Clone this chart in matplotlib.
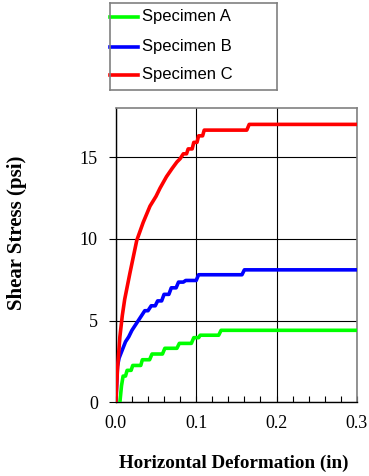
import matplotlib
matplotlib.use("Agg")
import matplotlib.pyplot as plt
from matplotlib.ticker import MultipleLocator, FormatStrFormatter

x_a = [0.005, 0.007, 0.009, 0.012, 0.014, 0.019, 0.021, 0.031, 0.033, 0.042, 0.045,
       0.058, 0.061, 0.076, 0.079, 0.094, 0.097, 0.103, 0.105, 0.128, 0.131, 0.300]
y_a = [0.0, 1.0, 1.6, 1.6, 1.95, 1.95, 2.25, 2.25, 2.6, 2.6, 2.95,
       2.95, 3.3, 3.3, 3.6, 3.6, 3.95, 3.95, 4.1, 4.1, 4.4, 4.4]

x_b = [0.0, 0.002, 0.004, 0.008, 0.012, 0.016, 0.020, 0.024, 0.028, 0.032, 0.036,
       0.040, 0.044, 0.049, 0.052, 0.057, 0.060, 0.066, 0.069, 0.075, 0.078, 0.084,
       0.087, 0.100, 0.103, 0.157, 0.160, 0.300]
y_b = [0.0, 2.2, 2.7, 3.2, 3.7, 4.0, 4.4, 4.7, 5.0, 5.3, 5.6,
       5.6, 5.9, 5.9, 6.2, 6.2, 6.6, 6.6, 7.0, 7.0, 7.35, 7.35,
       7.45, 7.45, 7.8, 7.8, 8.1, 8.1]

x_c = [0.0, 0.002, 0.005, 0.008, 0.011, 0.0175, 0.026, 0.034, 0.0425, 0.050, 0.055,
       0.063, 0.070, 0.076, 0.080, 0.084, 0.088, 0.090, 0.095, 0.097, 0.101, 0.103,
       0.108, 0.110, 0.163, 0.166, 0.300]
y_c = [0.0, 2.0, 4.0, 5.3, 6.3, 7.9, 9.9, 11.0, 12.0, 12.6, 13.1,
       13.8, 14.3, 14.7, 14.9, 15.2, 15.2, 15.5, 15.5, 15.9, 15.9, 16.3,
       16.3, 16.65, 16.65, 17.0, 17.0]

labels = ["Specimen A", "Specimen B", "Specimen C"]
colors = ["#00FF00", "#0000FF", "#FF0000"]

fig = plt.figure(figsize=(3.69, 4.76), dpi=100)
ax = fig.add_axes([0.314, 0.155, 0.653, 0.618])

for xs, ys, lab, col in zip([x_a, x_b, x_c], [y_a, y_b, y_c], labels, colors):
    ax.plot(xs, ys, color=col, lw=2.6, label=lab, zorder=3)

ax.set_xlim(0, 0.3)
ax.set_ylim(0, 18)
ax.xaxis.set_major_locator(MultipleLocator(0.1))
ax.xaxis.set_minor_locator(MultipleLocator(0.02))
ax.yaxis.set_major_locator(MultipleLocator(5))
ax.xaxis.set_major_formatter(FormatStrFormatter("%.1f"))

ax.grid(True, which="major", color="black", lw=0.8, zorder=1)
ax.tick_params(axis="x", which="both", direction="in", length=4, width=0.8, pad=9)
ax.tick_params(axis="y", which="major", direction="out", length=5, width=0.8, pad=8)
for lbl in ax.get_xticklabels() + ax.get_yticklabels():
    lbl.set_fontfamily("Liberation Serif")
    lbl.set_fontsize(13)

for s in ["top", "right"]:
    ax.spines[s].set_color("#808080")
    ax.spines[s].set_linewidth(1.2)
for s in ["left", "bottom"]:
    ax.spines[s].set_color("black")
    ax.spines[s].set_linewidth(1.0)

ax.set_xlabel("Horizontal Deformation (in)", fontfamily="Liberation Serif",
              fontweight="bold", fontsize=13.7)
ax.set_ylabel("Shear Stress (psi)", fontfamily="Liberation Serif",
              fontweight="bold", fontsize=15)
ax.xaxis.set_label_coords(0.49, -0.18)
ax.yaxis.set_label_coords(-0.37, 0.575)

# legend box drawn by hand (Excel style: handle touches the frame)
lax = fig.add_axes([0.298, 0.811, 0.4526, 0.1828])
lax.set_xlim(0, 1)
lax.set_ylim(0, 1)
lax.set_xticks([])
lax.set_yticks([])
for s in lax.spines.values():
    s.set_color("#808080")
    s.set_linewidth(1.2)
rows = [0.839, 0.494, 0.172]
for row, lab, col in zip(rows, labels, colors):
    lax.plot([0.0, 0.168], [row, row], color=col, lw=2.6, clip_on=False)
    lax.text(0.19, row, lab, va="center", ha="left", fontsize=12,
             fontfamily="Liberation Sans")

fig.savefig("out.png", dpi=100)
